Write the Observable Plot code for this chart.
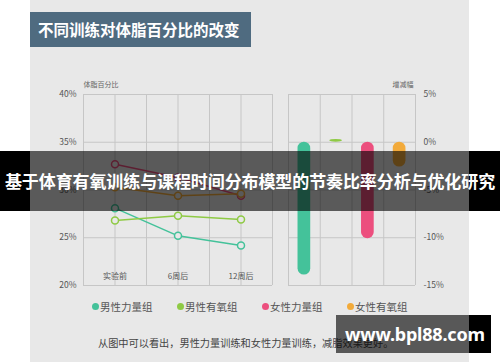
<!DOCTYPE html>
<html><head><meta charset="utf-8">
<script src="https://cdn.jsdelivr.net/npm/d3@7"></script>
<script src="https://cdn.jsdelivr.net/npm/@observablehq/plot@0.6"></script>
<style>
body{margin:0;background:#fff;font-family:"Noto Sans CJK SC","Noto Sans",sans-serif;}
#wrap{position:relative;width:500px;height:362px;overflow:hidden;}
.abs{position:absolute;}
#panel{left:30px;top:0;width:439px;height:362px;background:#e8e8e8;}
#title{left:30px;top:12px;width:221px;height:35px;background:#4f6b80;color:#fff;font-weight:bold;font-size:15.5px;line-height:35px;padding-left:8px;box-sizing:border-box;white-space:nowrap;}
.axlab{font-size:7px;color:#666;white-space:nowrap;transform:translateX(-50%);}
#legend{left:92px;top:299px;display:flex;}
.item{width:85px;font-size:10.5px;color:#555;display:flex;align-items:center;white-space:nowrap;}
.dot{width:7px;height:7px;border-radius:50%;margin-right:1px;}
#caption{left:98px;top:335px;font-size:10.2px;color:#444;white-space:nowrap;}
.band{top:151px;height:60px;}
#bandtext{left:0;top:151px;width:500px;height:60px;line-height:60px;text-align:center;color:#fff;font-weight:bold;font-size:17px;white-space:nowrap;letter-spacing:-0.1px;}
#wm{left:336px;top:315px;width:155px;height:38px;line-height:38px;color:#fff;font-weight:bold;font-size:18px;font-family:"Noto Sans","DejaVu Sans",sans-serif;padding-left:9px;box-sizing:border-box;white-space:nowrap;letter-spacing:-0.2px;}
</style></head>
<body>
<div id="wrap">
  <div id="panel" class="abs"></div>
  <div id="title" class="abs">不同训练对体脂百分比的改变</div>
  <div class="abs axlab" style="left:101px;top:79px;">体脂百分比</div>
  <div class="abs axlab" style="left:403px;top:79px;">增减幅</div>
  <div id="left" class="abs" style="left:0;top:0;"></div>
  <div id="right" class="abs" style="left:280px;top:0;"></div>
  <div id="legend" class="abs"></div>
  <div id="caption" class="abs">从图中可以看出，男性力量训练和女性力量训练，减脂效果更好。</div>
  <div class="abs band" style="left:0;width:30px;background:#000;"></div>
  <div class="abs band" style="left:30px;width:439px;background:rgba(0,0,0,0.61);"></div>
  <div class="abs band" style="left:469px;width:31px;background:#000;"></div>
  <div id="bandtext" class="abs">基于体育有氧训练与课程时间分布模型的节奏比率分析与优化研究</div>
  <div class="abs" style="left:336px;top:315px;width:133px;height:38px;background:rgba(0,0,0,0.62);"></div>
  <div class="abs" style="left:469px;top:315px;width:22px;height:38px;background:#000;"></div>
  <div id="wm" class="abs">www.bpl88.com</div>
</div>
<script>
const groups = ["男性力量组", "男性有氧组", "女性力量组", "女性有氧组"];
const colors = ["#44c29a", "#8fca45", "#ec4f7e", "#f2aa3a"];
const periods = ["实验前", "6周后", "12周后"];
const maleStrength = [28.1, 25.2, 24.2];
const maleAerobic = [26.8, 27.3, 26.9];
const femaleStrength = [32.7, 31.3, 29.4];
const femaleAerobic = [30.3, 29.4, 29.6];
const changePct = [-13.9, 0.3, -10.1, -2.6];
const leftTicks = [20, 25, 30, 35, 40];
const rightTicks = [-15, -10, -5, 0, 5];

const series = [maleStrength, maleAerobic, femaleStrength, femaleAerobic];
const rows = [];
series.forEach((vals, g) => vals.forEach((v, i) => rows.push({group: groups[g], period: periods[i], idx: i + 0.5, value: v})));
const colorScale = {domain: groups, range: colors};
const gridColor = "#c6c6c6";
const textColor = "#555";

const left = Plot.plot({
  width: 280, height: 300,
  marginLeft: 83, marginRight: 8, marginTop: 94, marginBottom: 15,
  style: {background: "transparent", fontFamily: "'Noto Sans CJK SC', sans-serif"},
  x: {domain: [0, periods.length], axis: null},
  y: {domain: [20, 40], axis: null},
  color: colorScale,
  marks: [
    Plot.gridX(d3.range(0, periods.length + 0.01, 0.5), {stroke: gridColor, strokeOpacity: 1, strokeWidth: 1}),
    Plot.gridY(leftTicks, {stroke: gridColor, strokeOpacity: 1, strokeWidth: 1}),
    Plot.axisY(leftTicks, {label: null, tickSize: 0, tickPadding: 7, tickFormat: d => d + "%", fontSize: 8.5, fill: textColor}),
    Plot.text(periods, {x: (d, i) => i + 0.5, y: 20, text: d => d, dy: -9.5, fontSize: 8, fill: textColor}),
    Plot.line(rows, {x: "idx", y: "value", z: "group", stroke: "group", strokeWidth: 1.5}),
    Plot.dot(rows, {x: "idx", y: "value", stroke: "group", fill: "#e8e8e8", r: 3.5, strokeWidth: 1.5})
  ]
});
document.getElementById("left").appendChild(left);

const bars = groups.map((g, i) => ({group: g, i, value: changePct[i]}));
const right = Plot.plot({
  width: 220, height: 300,
  marginLeft: 8, marginRight: 85, marginTop: 94, marginBottom: 15,
  style: {background: "transparent", fontFamily: "'Noto Sans CJK SC', sans-serif"},
  x: {domain: [0, groups.length], axis: null},
  y: {domain: [-15, 5], axis: null},
  color: colorScale,
  marks: [
    Plot.gridX(d3.range(0, groups.length + 1), {stroke: gridColor, strokeOpacity: 1, strokeWidth: 1}),
    Plot.gridY(rightTicks, {stroke: gridColor, strokeOpacity: 1, strokeWidth: 1}),
    Plot.axisY(rightTicks, {anchor: "right", label: null, tickSize: 0, tickPadding: 8, tickFormat: d => d + "%", fontSize: 8.5, fill: textColor}),
    Plot.rectY(bars, {x1: d => d.i + 0.3, x2: d => d.i + 0.7, y1: 0, y2: "value", fill: "group", rx: 6.3})
  ]
});
document.getElementById("right").appendChild(right);

const legend = document.getElementById("legend");
groups.forEach((g, i) => {
  const it = document.createElement("div"); it.className = "item";
  const dot = document.createElement("span"); dot.className = "dot"; dot.style.background = colors[i];
  it.appendChild(dot); it.appendChild(document.createTextNode(g));
  legend.appendChild(it);
});
</script>
</body></html>
